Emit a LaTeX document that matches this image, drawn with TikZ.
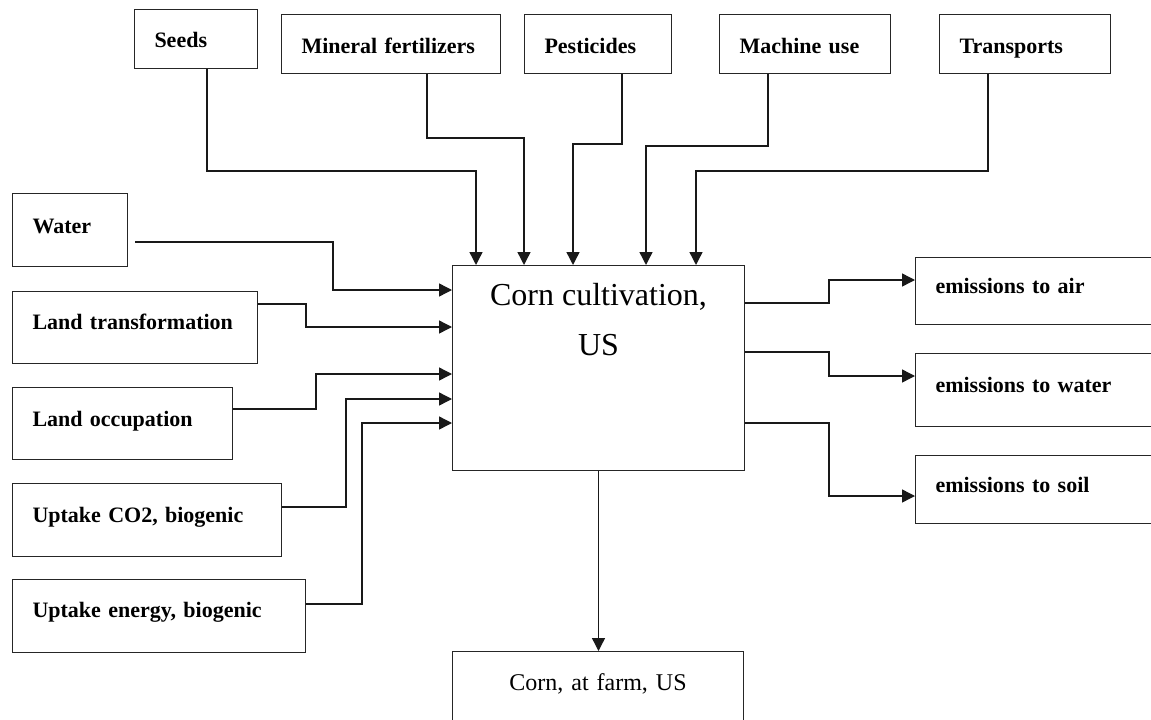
\documentclass[tikz,border=0pt]{standalone}
\usepackage{fontspec}
\setmainfont{Liberation Serif}
\usetikzlibrary{arrows.meta}
\begin{document}
\begin{tikzpicture}[x=1pt,y=-1pt,
  box/.style={draw=black!85, line width=1pt, anchor=north west,
    inner xsep=20pt, inner ysep=0pt, align=left,
    font=\fontsize{22}{26}\selectfont\bfseries},
  conn/.style={draw=black!90, line width=1.4pt, -{Triangle[length=13pt,width=13pt]}}]
\useasboundingbox (0,0) rectangle (1151,720);
\clip (0,0) rectangle (1151,720);

% inputs from the technosphere
\node[box, text width=83pt,  text height=38pt, text depth=21pt] (seeds)   at (134,9)  {\mbox{Seeds}};
\node[box, text width=179pt, text height=39pt, text depth=20pt] (mineral) at (281,14) {\mbox{Mineral fertilizers}};
\node[box, text width=107pt, text height=39pt, text depth=20pt] (pest)    at (524,14) {\mbox{Pesticides}};
\node[box, text width=131pt, text height=39pt, text depth=20pt] (machine) at (719,14) {\mbox{Machine use}};
\node[box, text width=131pt, text height=39pt, text depth=20pt] (transp)  at (939,14) {\mbox{Transports}};

% inputs from nature
\node[box, text width=75pt,  text height=40pt, text depth=33pt] (water)  at (12,193) {\mbox{Water}};
\node[box, text width=205pt, text height=38pt, text depth=34pt] (landtr) at (12,291) {\mbox{Land transformation}};
\node[box, text width=180pt, text height=39pt, text depth=33pt] (landoc) at (12,387) {\mbox{Land occupation}};
\node[box, text width=229pt, text height=39pt, text depth=34pt] (co2)    at (12,483) {\mbox{Uptake CO2, biogenic}};
\node[box, text width=253pt, text height=38pt, text depth=35pt] (energy) at (12,579) {\mbox{Uptake energy, biogenic}};

% the process
\node[draw=black!85, line width=1pt, anchor=north west, inner xsep=6pt, inner ysep=0pt,
      text height=40pt, text depth=165pt, font=\fontsize{32}{50}\selectfont]
      (proc) at (452,265) {\parbox[t]{280pt}{\centering Corn cultivation,\\US}};

% emissions
\node[box, text width=215pt, text height=36pt, text depth=31pt] (air)    at (915,257) {\mbox{emissions to air}};
\node[box, text width=215pt, text height=39pt, text depth=34pt] (waterE) at (915,353) {\mbox{emissions to water}};
\node[box, text width=215pt, text height=37pt, text depth=31pt] (soil)   at (915,455) {\mbox{emissions to soil}};

% product
\node[draw=black!85, line width=1pt, anchor=north west, inner xsep=0pt, inner ysep=0pt,
      text width=291pt, align=center, text height=39pt, text depth=60pt,
      font=\fontsize{24}{28}\selectfont] (farm) at (452,651) {Corn, at farm, US};

% connectors from above
\draw[conn] ([xshift=73pt]seeds.south west)   -- ++(0,102) -| ([xshift=24pt]proc.north west);
\draw[conn] ([xshift=146pt]mineral.south west) -- ++(0,64) -| ([xshift=72pt]proc.north west);
\draw[conn] ([xshift=98pt]pest.south west)    -- ++(0,70)  -| ([xshift=121pt]proc.north west);
\draw[conn] ([xshift=49pt]machine.south west) -- ++(0,72)  -| ([xshift=194pt]proc.north west);
\draw[conn] ([xshift=49pt]transp.south west)  -- ++(0,97)  -| ([xshift=244pt]proc.north west);

% connectors from the left
\draw[conn] ([shift={(7pt,-49pt)}]water.north east) -| (333,290) -- ([yshift=-25pt]proc.north west);
\draw[conn] ([yshift=-13pt]landtr.north east) -| (306,327) -- ([yshift=-62pt]proc.north west);
\draw[conn] ([yshift=-22pt]landoc.north east) -| (316,374) -- ([yshift=-109pt]proc.north west);
\draw[conn] ([yshift=-24pt]co2.north east)    -| (346,399) -- ([yshift=-134pt]proc.north west);
\draw[conn] ([yshift=-25pt]energy.north east) -| (362,423) -- ([yshift=-158pt]proc.north west);

% connectors to the emissions
\draw[conn] ([yshift=-38pt]proc.north east)  -| (829,280) -- ([yshift=-23pt]air.north west);
\draw[conn] ([yshift=-87pt]proc.north east)  -| (829,376) -- ([yshift=-23pt]waterE.north west);
\draw[conn] ([yshift=-158pt]proc.north east) -| (829,496) -- ([yshift=-41pt]soil.north west);

% product output
\draw[conn] (proc.south) -- (proc.south |- farm.north);
\end{tikzpicture}
\end{document}
